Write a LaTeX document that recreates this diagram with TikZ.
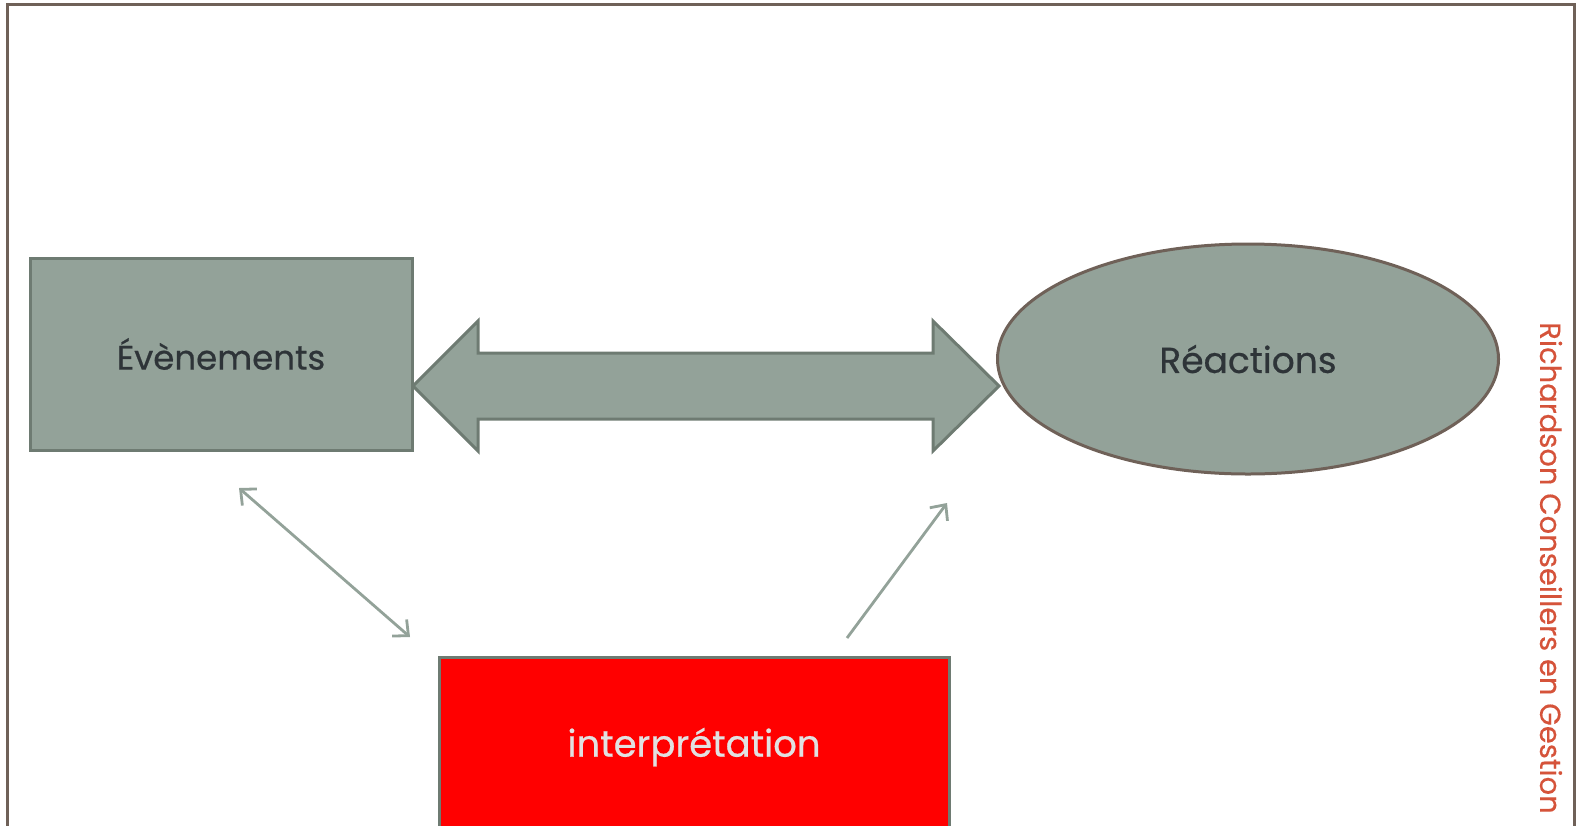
\documentclass[tikz,border=0pt]{standalone}
\usepackage{fontspec}
\setmainfont{Poppins}
\usetikzlibrary{arrows.meta, shapes.geometric}
\definecolor{sage}{HTML}{93A299}
\definecolor{sagedark}{HTML}{6E7B72}
\definecolor{umber}{HTML}{6F6158}
\definecolor{inkdark}{HTML}{2E3438}
\definecolor{rustred}{HTML}{D5533A}
\tikzset{
  box/.style={draw=sagedark, line width=3pt, fill=sage, text=inkdark, font=\fontsize{34}{40}\selectfont\addfontfeatures{FakeBold=0.6}},
  thin arrow/.style={draw=sage, line width=2.8pt, {Straight Barb[length=12pt,width=22pt]}-{Straight Barb[length=12pt,width=22pt]}}
}
\begin{document}
\begin{tikzpicture}[x=1pt, y=-1pt]
\useasboundingbox (0,0) rectangle (1579,825);
\begin{scope}
\clip (0,0) rectangle (1579,825);
% frame
\draw[umber, line width=3pt] (7,830) -- (7,4) -- (1574,4) -- (1574,830);
% nodes
\node[box, minimum width=382pt, minimum height=192pt] (evt) at (221,354) {Évènements};
\node[box, ellipse, draw=umber, minimum width=501pt, minimum height=230pt, inner sep=0pt,
  font=\fontsize{36}{42}\selectfont\addfontfeatures{FakeBold=0.6}] (reac) at (1248,359) {Réactions};
\node[box, fill=red, text={rgb,255:red,225;green,225;blue,225}, minimum width=510pt, minimum height=180pt,
  font=\fontsize{37}{44}\selectfont\addfontfeatures{FakeBold=0.6}] (interp) at (694,747) {interprétation};
% big double arrow
\draw[draw=sagedark, line width=3pt, fill=sage, line join=miter]
  (413,386) -- (478,321) -- (478,353) -- (933,353) -- (933,321) -- (999,386) -- (933,451) -- (933,419) -- (478,419) -- (478,451) -- cycle;
% thin arrows
\coordinate (a1) at (239,488);
\coordinate (a2) at (410,637);
\coordinate (b1) at (847,638);
\coordinate (b2) at (947,503);
\draw[thin arrow] (a1) -- (a2);
\draw[thin arrow, {-Straight Barb[length=12pt,width=22pt]}] (b1) -- (b2);
\end{scope}
\node[rotate=-90, text=rustred, font=\fontsize{29}{34}\selectfont\addfontfeatures{FakeBold=0.3}] (brand) at (1551,568) {Richardson Conseillers en Gestion};
\end{tikzpicture}
\end{document}
